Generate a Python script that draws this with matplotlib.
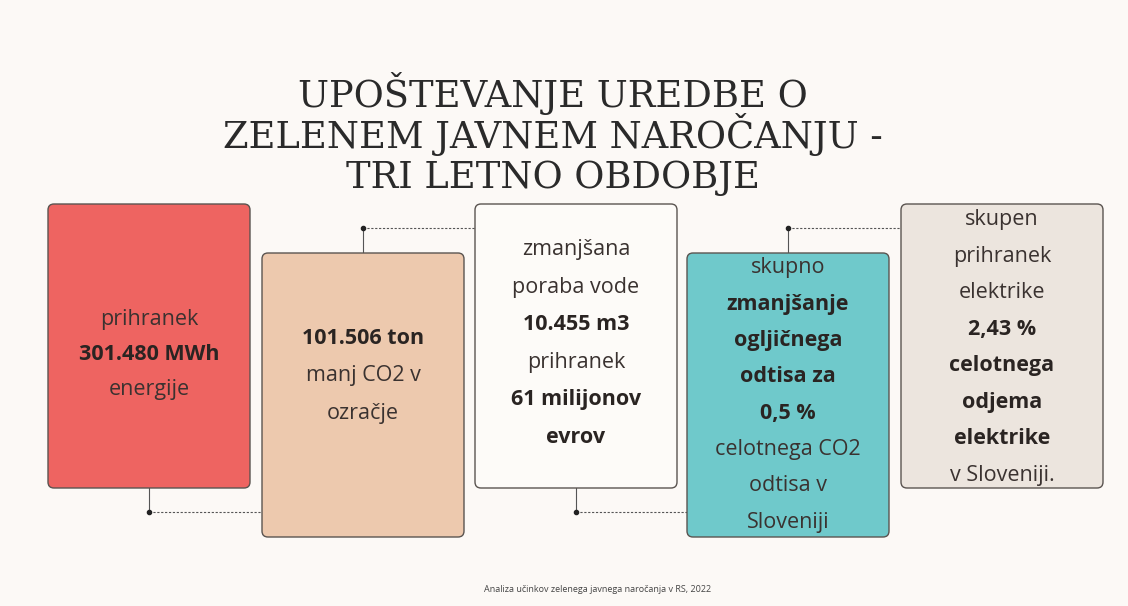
import matplotlib
matplotlib.use("Agg")
import matplotlib.pyplot as plt
from matplotlib.patches import FancyBboxPatch

# ---- content ----
title_lines = ["UPOŠTEVANJE UREDBE O", "ZELENEM JAVNEM NAROČANJU -", "TRI LETNO OBDOBJE"]
box_texts = [
    ["prihranek", "301.480 MWh", "energije"],
    ["101.506 ton", "manj CO2 v", "ozračje"],
    ["zmanjšana", "poraba vode", "10.455 m3", "prihranek", "61 milijonov", "evrov"],
    ["skupno", "zmanjšanje", "ogljičnega", "odtisa za", "0,5 %", "celotnega CO2", "odtisa v", "Sloveniji"],
    ["skupen", "prihranek", "elektrike", "2,43 %", "celotnega", "odjema", "elektrike", "v Sloveniji."],
]
box_bold = [
    [False, True, False],
    [True, False, False],
    [False, False, True, False, True, True],
    [False, True, True, True, True, False, False, False],
    [False, False, False, True, True, True, True, False],
]
box_colors = ["#ee6461", "#edc9ae", "#fdfbf8", "#6fc9cb", "#ece5de"]
footer = "Analiza učinkov zelenega javnega naročanja v RS, 2022"

# ---- layout ----
W, H = 1128, 606
bg = "#fcf9f6"
fig = plt.figure(figsize=(W / 100, H / 100), dpi=100, facecolor=bg)
ax = fig.add_axes([0, 0, 1, 1])
ax.set_xlim(0, W)
ax.set_ylim(H, 0)
ax.axis("off")
ax.set_facecolor(bg)

box_x = [48, 262, 475, 687, 901]
box_w = 202
box_top = [204, 253, 204, 253, 204]
box_h = 284
line_gap = [35.5, 37, 37.5, 36.3, 36.5]
text_top = [319, 339, 250, 268, 220]

font = "Open Sans"

# connectors
con_col = "#555555"
for i in range(4):
    x0 = box_x[i] + box_w / 2
    if i % 2 == 0:
        y_end = 512
        ax.plot([x0, x0], [box_top[i] + box_h, y_end], color=con_col, lw=0.8, zorder=1)
    else:
        y_end = 228
        ax.plot([x0, x0], [box_top[i], y_end], color=con_col, lw=0.8, zorder=1)
    ax.plot([x0, box_x[i + 1]], [y_end, y_end], color=con_col, lw=0.8, ls=(0, (2, 1.5)), zorder=1)
    ax.plot([x0], [y_end], "o", color="#222222", ms=3, zorder=2)

# boxes
for i in range(5):
    p = FancyBboxPatch((box_x[i], box_top[i]), box_w, box_h,
                       boxstyle="round,pad=0,rounding_size=6",
                       facecolor=box_colors[i], edgecolor="#5a5450", lw=1.0, zorder=3)
    ax.add_patch(p)
    cx = box_x[i] + box_w / 2
    for j, (t, b) in enumerate(zip(box_texts[i], box_bold[i])):
        ax.text(cx, text_top[i] + j * line_gap[i], t, ha="center", va="center",
                fontsize=15.5, family=font, fontweight="bold" if b else "normal",
                color="#2a2422" if b else "#3a3230", zorder=4)

# title
title_base = [107, 148, 188]
for t, y in zip(title_lines, title_base):
    ax.text(553, y, t, ha="center", va="baseline", fontsize=26.5,
            family="DejaVu Serif", color="#2a2a2a")

ax.text(598, 590, footer, ha="center", va="center", fontsize=6.5, family=font, color="#444444")

fig.savefig("out.png", dpi=100, facecolor=bg)
